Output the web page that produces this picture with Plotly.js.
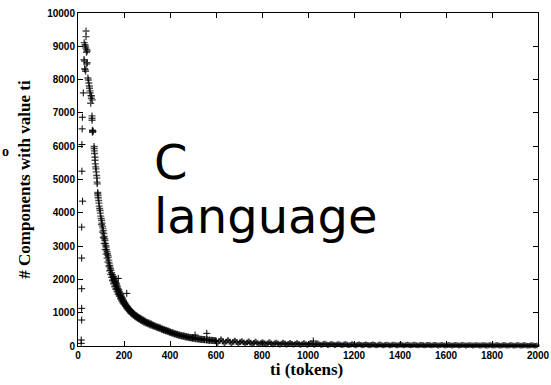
<!DOCTYPE html>
<html>
<head>
<meta charset="utf-8">
<script src="https://cdn.plot.ly/plotly-3.0.1.min.js"></script>
<style>
  html, body { margin: 0; padding: 0; background: #fff; }
  #chart { width: 551px; height: 385px; }
</style>
</head>
<body>
<div id="chart"></div>
<script>
// Number of components (y) having a given token count ti (x), C code base.
const tiMain = [
  26, 27, 28, 29, 30, 31, 32, 33, 34, 35, 35, 37, 38, 38, 40, 40,
  43, 45, 47, 49, 50, 52, 53, 55, 56, 58, 59, 61, 61, 61, 62,
  63, 63, 64, 65, 70, 70, 71, 72, 74, 74, 75, 77, 78, 79, 81, 82, 83, 84,
  86, 86, 87, 88, 90, 91, 92, 94, 96, 97, 99, 101, 103, 105, 107, 108,
  110, 112, 114, 116, 117, 119, 121, 122, 124, 126, 128, 130, 132, 134,
  136, 138, 139, 141, 143, 146, 149, 152, 154, 156, 159, 162, 165, 168,
  171, 174, 177, 180, 183, 186, 189, 192, 195, 198, 201, 204, 208, 212,
  216, 220, 224, 228, 232, 236, 240, 245, 250, 255, 260, 265, 270, 276,
  284, 290, 297, 304, 311, 318, 325, 333, 342, 350, 358, 366, 374, 382,
  390, 398, 406, 414, 423, 432, 441, 450, 459, 468, 477, 486, 495, 501,
  510, 520, 530, 540, 550, 560, 570, 580, 590, 600, 615, 630, 645, 660,
  675, 690, 705, 720, 735, 750, 765, 780, 795, 810, 825, 840, 855, 870,
  885, 900, 915, 930, 945, 960, 975, 990, 1005, 1020, 1035, 1050, 1065,
  1080, 1095, 1110, 1125, 1140, 1155, 1170, 1185, 1200, 1215, 1230, 1245,
  1260, 1275, 1290, 1305, 1320, 1335, 1350, 1365, 1380, 1395, 1410, 1425,
  1440, 1455, 1470, 1485, 1500, 1515, 1530, 1545, 1560, 1575, 1590, 1605,
  1620, 1635, 1650, 1665, 1680, 1695, 1710, 1725, 1740, 1755, 1770, 1785,
  1800, 1815, 1830, 1845, 1860, 1875, 1890, 1905, 1920, 1935, 1950, 1965,
  1980, 1995
];
const countMain = [
  8600, 9110, 8560, 8330, 9050, 8300, 9010, 8250, 8950, 9460, 9290, 8820, 8900, 8470, 8860, 8510,
  8050, 7990, 7900, 7810, 7740, 7660, 7600, 7290, 7520, 7440, 7510, 6910, 6840, 6780, 7390,
  6480, 6420, 6460, 6440, 5990, 5930, 5860, 5780, 5670, 5580, 5470, 5380, 5320, 5230, 5120, 5040, 4920, 4870,
  4610, 4570, 4520, 4450, 4370, 4290, 4200, 4130, 4070, 3990, 3900, 3830, 3770, 3690, 3600, 3540,
  3470, 3380, 3290, 3220, 3170, 3080, 3010, 2970, 2890, 2830, 2770, 2720, 2670, 2580,
  2490, 2420, 2370, 2320, 2270, 2200, 2140, 2090, 2070, 2010, 1960, 1930, 1890, 1850,
  1790, 1720, 1680, 1620, 1580, 1530, 1480, 1440, 1400, 1350, 1310, 1280, 1240, 1200,
  1160, 1120, 1090, 1060, 1030, 1000, 980, 950, 920, 890, 870, 850, 830, 810,
  780, 750, 720, 700, 680, 660, 630, 610, 580, 560, 540, 510, 490, 470,
  450, 420, 400, 380, 360, 340, 320, 300, 290, 270, 260, 250, 240, 230,
  220, 210, 200, 195, 190, 180, 175, 170, 165, 160, 150, 140, 135, 130,
  125, 120, 115, 110, 105, 100, 95, 92, 90, 87, 84, 81, 78, 75,
  73, 71, 69, 67, 65, 63, 61, 60, 58, 57, 56, 54, 50,
  49, 47, 46, 44, 43, 41, 40, 39, 38, 37, 36, 35,
  34, 34, 33, 32, 31, 31, 30, 30, 29, 29, 28, 28,
  27, 27, 26, 26, 26, 25, 25, 25, 24, 24, 24, 23,
  23, 23, 22, 22, 22, 21, 21, 21, 21, 20, 20, 20,
  20, 19, 19, 19, 19, 18, 18, 18, 18, 18, 17, 17,
  17, 17
];

// Neighbouring token counts that widen the band around the curve.
const tiSpread = [
  102, 106, 110, 114, 118, 122, 126, 130, 134, 138, 142, 146, 150, 155,
  160, 165, 170, 175, 180, 185, 190, 195, 200, 206, 212, 218, 224, 230,
  236, 242, 248, 254, 260, 267, 274, 281, 288, 296, 304, 312, 320, 328,
  337, 346, 355, 364, 373, 382, 391, 400, 410, 420, 430, 440, 450, 460,
  470, 480, 490, 500, 512, 524, 536, 548, 560, 572, 584, 596,
  607, 622, 637, 652, 667, 682, 697, 712, 727, 742, 757, 772, 787, 802,
  817, 832, 847, 862, 877, 892, 907, 922, 937, 952, 967, 982, 997, 1012,
  1027, 1042, 1057, 1072, 1087, 1102, 1117, 1132, 1147, 1162, 1177, 1192,
  1207, 1222, 1237, 1252, 1267, 1282, 1297, 1312, 1327, 1342, 1357, 1372,
  1387, 1402, 1417, 1432, 1447, 1462, 1477, 1492, 1507, 1522, 1537, 1552,
  1567, 1582, 1597, 1612, 1627, 1642, 1657, 1672, 1687, 1702, 1717, 1732,
  1747, 1762, 1777, 1792, 1807, 1822, 1837, 1852, 1867, 1882, 1897, 1912,
  1927, 1942, 1957, 1972, 1987
];
const countSpread = [
  3650, 3420, 3250, 3080, 2900, 2760, 2640, 2520, 2400, 2260, 2150, 2060, 1970, 1880,
  1790, 1710, 1640, 1560, 1500, 1430, 1370, 1310, 1260, 1200, 1140, 1090, 1040, 1000,
  960, 920, 890, 860, 830, 800, 770, 740, 715, 690, 665, 640, 620, 600,
  575, 550, 530, 505, 480, 460, 440, 420, 395, 370, 350, 330, 315, 300,
  285, 270, 255, 245, 230, 215, 205, 195, 185, 175, 168, 160,
  90, 200, 80, 180, 75, 165, 70, 150, 62, 140, 55, 130, 52, 120,
  48, 115, 45, 105, 42, 100, 40, 95, 38, 90, 35, 85, 34, 80,
  32, 78, 28, 70, 27, 66, 25, 62, 23, 60, 22, 56,
  20, 54, 19, 52, 18, 50, 17, 48, 16, 46, 16, 44,
  15, 42, 15, 41, 14, 40, 14, 39, 13, 38, 13, 37,
  12, 36, 12, 35, 12, 34, 11, 33, 11, 32, 11, 32,
  10, 31, 10, 30, 10, 30, 9, 29, 9, 28, 9, 28,
  9, 27, 8, 27, 8
];

// Short components that sit apart from the main curve.
const tiLow = [14, 14, 16, 16, 16, 16, 20, 16, 17, 17, 18, 19, 23];
const countLow = [80, 180, 780, 1130, 1720, 2640, 4350, 3570, 5250, 6050, 6520, 6870, 7600];

// Scattered points above the curve.
const tiStray = [175, 212, 509, 560, 1023];
const countStray = [2030, 1580, 330, 380, 150];

const xTicks = [0, 200, 400, 600, 800, 1000, 1200, 1400, 1600, 1800, 2000];
const yTicks = [0, 1000, 2000, 3000, 4000, 5000, 6000, 7000, 8000, 9000, 10000];

// '+' markers; in the crowded long tail they are drawn a little heavier
// so the overlapping crosses merge into one dark band.
function plusFor(tis) {
  return {
    symbol: 'cross-thin-open',
    size: tis.map(t => (t >= 600 ? 4 : 5)),
    color: '#000',
    line: { color: '#000', width: tis.map(t => (t >= 150 ? 2 : 1.4)) }
  };
}
const plainPlus = { symbol: 'cross-thin-open', size: 5, color: '#000', line: { color: '#000', width: 1 } };

const traces = [
  { x: tiMain, y: countMain, type: 'scatter', mode: 'markers', marker: plusFor(tiMain), cliponaxis: false },
  { x: tiSpread, y: countSpread, type: 'scatter', mode: 'markers', marker: plusFor(tiSpread), cliponaxis: false },
  { x: tiLow, y: countLow, type: 'scatter', mode: 'markers', marker: plainPlus, cliponaxis: false },
  { x: tiStray, y: countStray, type: 'scatter', mode: 'markers', marker: plainPlus, cliponaxis: false }
];

const tickFont = { family: 'Liberation Sans, Arial, sans-serif', size: 10, color: '#000', weight: 'bold' };
const serifBold = 'Liberation Serif, Times New Roman, serif';

const axisCommon = {
  showgrid: false,
  zeroline: false,
  showline: true,
  linecolor: '#000',
  linewidth: 1,
  mirror: 'ticks',
  ticks: 'inside',
  ticklen: 5,
  tickwidth: 1,
  tickcolor: '#000',
  tickfont: tickFont
};

const layout = {
  width: 551,
  height: 385,
  margin: { l: 78, r: 13, t: 13, b: 39 },
  paper_bgcolor: '#fff',
  plot_bgcolor: '#fff',
  showlegend: false,
  xaxis: Object.assign({}, axisCommon, {
    range: [0, 2000],
    tickvals: xTicks,
    ticktext: xTicks.map(String)
  }),
  yaxis: Object.assign({}, axisCommon, {
    range: [0, 10000],
    tickvals: yTicks,
    ticktext: yTicks.map(String),
    title: { text: '# Components with value ti', font: { family: serifBold, size: 17, color: '#000', weight: 'bold' }, standoff: 12 }
  }),
  annotations: [
    // x-axis title, set close under the tick labels
    { text: 'ti (tokens)', xref: 'paper', yref: 'paper', x: 0.496, y: -0.072, xanchor: 'center', yanchor: 'middle',
      showarrow: false, font: { family: serifBold, size: 17, color: '#000', weight: 'bold' } },
    { text: 'C', xref: 'paper', yref: 'paper', x: 0.16, y: 0.553, xanchor: 'left', yanchor: 'middle',
      showarrow: false, font: { family: 'DejaVu Sans', size: 48, color: '#000' } },
    { text: 'language', xref: 'paper', yref: 'paper', x: 0.16, y: 0.391, xanchor: 'left', yanchor: 'middle',
      showarrow: false, font: { family: 'DejaVu Sans', size: 48, color: '#000' } },
    { text: 'o', xref: 'paper', yref: 'paper', x: -0.1696, y: 0.585, xanchor: 'left', yanchor: 'middle',
      showarrow: false, font: { family: serifBold, size: 14, color: '#000', weight: 'bold' } }
  ]
};

Plotly.newPlot('chart', traces, layout, { staticPlot: true, displayModeBar: false });
</script>
</body>
</html>
